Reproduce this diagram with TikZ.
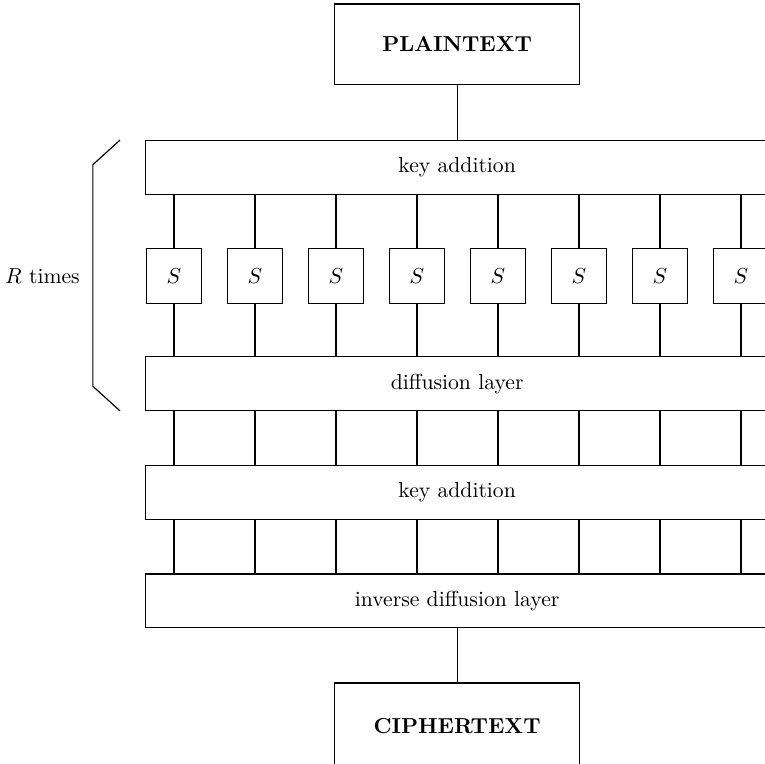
\documentclass[tikz,border=0pt]{standalone}
\usetikzlibrary{positioning}

\begin{document}
\begin{tikzpicture}[line width=0.55pt,
	textbox/.style={rectangle,draw=black,minimum width=3.97cm,minimum height=1.31cm,text centered},
	layer/.style={rectangle,draw=black,minimum width=10.1cm,minimum height=0.875cm,text centered},
	sbox/.style={rectangle,draw=black,minimum width=0.89cm,minimum height=0.89cm,text centered}
	]
	\useasboundingbox (0,0) rectangle (12.4,-12.38);
	\clip (0,0) rectangle (12.4,-12.38);
	\node (plain)[textbox] at (7.41,-0.72){\textbf{PLAINTEXT}};
	\node (key1)[layer] at (7.41,-2.71){key addition};
	\node (diff)[layer] at (7.41,-6.22){diffusion layer};
	\node (key2)[layer] at (7.41,-7.98){key addition};
	\node (inv)[layer] at (7.41,-9.74){inverse diffusion layer};
	\node (cipher)[textbox,minimum height=1.38cm,below=0.875cm of inv]{\textbf{CIPHERTEXT}};
	\foreach \i in {1,...,8}{
		\node (s\i)[sbox] at ({2.82+1.313*(\i-1)},-4.47){$S$};
		\draw (key1.south -| s\i) -- (s\i);
		\draw (s\i) -- (diff.north -| s\i);
		\draw (diff.south -| s\i) -- (key2.north -| s\i);
		\draw (key2.south -| s\i) -- (inv.north -| s\i);
	}
	\draw (plain) -- (key1);
	\draw (inv) -- (cipher);
	\coordinate (bracetop) at (1.945,-2.27);
	\coordinate (bracebot) at (1.945,-6.66);
	\draw (bracetop) -- ++(-0.44,-0.4) -- ([xshift=-0.44cm,yshift=0.4cm]bracebot) -- (bracebot);
	\node (rtimes)[anchor=east] at (1.42,-4.47){$R$ times};
\end{tikzpicture}
\end{document}
